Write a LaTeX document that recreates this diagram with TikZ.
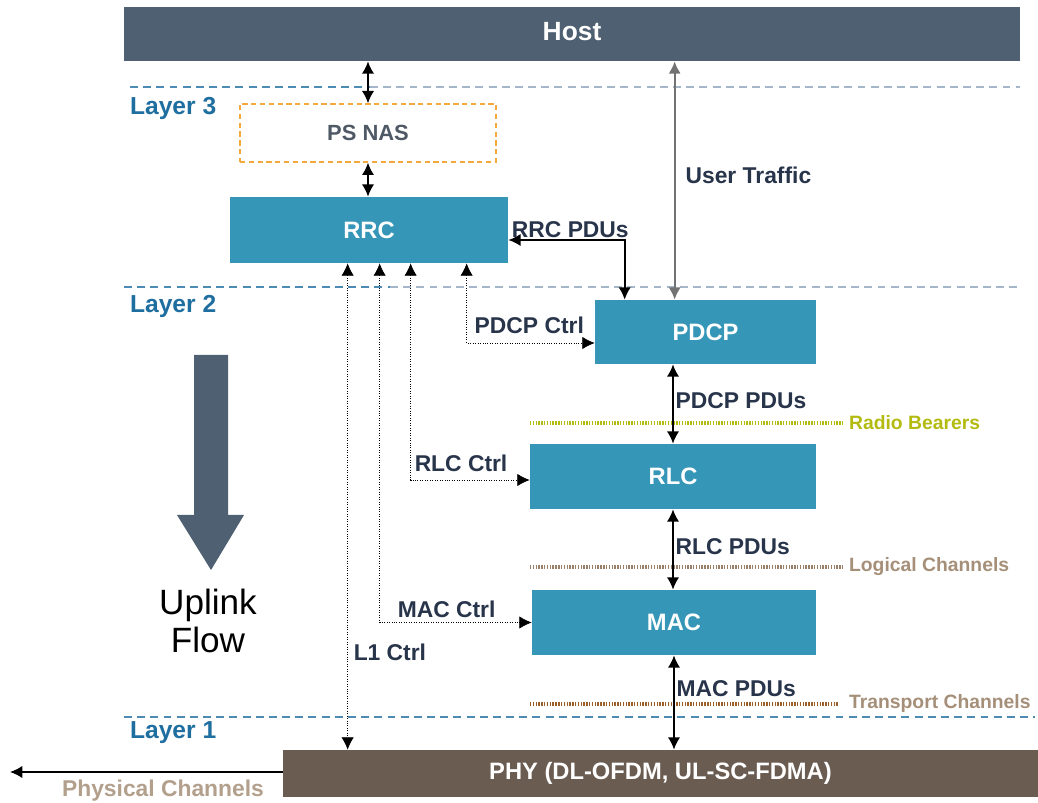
\documentclass[tikz,border=0pt]{standalone}
\usepackage{fontspec}
\setmainfont{Liberation Sans}
\usetikzlibrary{arrows.meta}

\definecolor{hostgray}{HTML}{4E6071}
\definecolor{layerteal}{HTML}{3596B7}
\definecolor{phybrown}{HTML}{6B5C52}
\definecolor{layerblue}{HTML}{1F6EA0}
\definecolor{linegray}{HTML}{A4B6C8}
\definecolor{labelink}{HTML}{27344A}
\definecolor{nasorange}{HTML}{F4A93C}
\definecolor{nastext}{HTML}{4F5966}
\definecolor{bearergreen}{HTML}{B3BA10}
\definecolor{logicbrown}{HTML}{9A8068}
\definecolor{transbrown}{HTML}{9C5F2A}
\definecolor{chantext}{HTML}{A58F78}

\tikzstyle{hostbar} = [rectangle, 
minimum width=17.92cm, 
minimum height=1.08cm, 
inner sep=0pt,
fill=hostgray, 
text=white, 
font=\fontsize{15}{18}\selectfont\bfseries]
\tikzstyle{block} = [rectangle, 
inner sep=0pt,
fill=layerteal, 
text=white, 
font=\fontsize{13.5}{16}\selectfont\bfseries]
\tikzstyle{nasbox} = [rectangle, 
minimum width=5.12cm, 
minimum height=1.16cm, 
draw=nasorange, 
thick, 
dash pattern=on 3pt off 2pt,
text=nastext, 
font=\fontsize{12.5}{14}\selectfont\bfseries]
\tikzstyle{phybar} = [rectangle, 
minimum width=15.1cm, 
minimum height=0.94cm, 
inner sep=0pt,
fill=phybrown, 
text=white, 
font=\fontsize{13.5}{16}\selectfont\bfseries]
\tikzstyle{tag} = [inner sep=1pt, text=labelink, font=\fontsize{13}{15}\selectfont\bfseries]
\tikzstyle{layertag} = [inner sep=1pt, anchor=west, text=layerblue, font=\fontsize{14}{16}\selectfont\bfseries]
\tikzstyle{chantag} = [inner sep=1pt, anchor=west, font=\fontsize{11}{13}\selectfont\bfseries]
\tikzstyle{layerline} = [thick, dash pattern=on 4.5pt off 3pt]
\tikzstyle{chanline} = [line width=2pt, dash pattern=on 0.8pt off 0.8pt]
\tikzstyle{arrow} = [line width=1pt,<->,>={Latex[length=7pt,width=7pt]}]
\tikzstyle{ctrl} = [densely dotted,<->,>={Latex[length=7pt,width=7pt]}]

\begin{document}
\begin{tikzpicture}[x=0.02cm, y=-0.02cm]

\useasboundingbox (0,0) rectangle (1038,803);

% layer boundaries
\draw [layerline, layerblue!80] (130,87) -- (370,87);
\draw [layerline, linegray] (370,87) -- (1020,87);
\draw [layerline, layerblue!80] (124,287) -- (390,287);
\draw [layerline, linegray] (390,287) -- (1020,287);
\draw [layerline, layerblue!80] (124,717) -- (1035,717);

\node (l3) [layertag] at (128,108) {Layer 3};
\node (l2) [layertag] at (128,306) {Layer 2};
\node (l1) [layertag] at (128,733) {Layer 1};

% channel boundaries
\draw [chanline, bearergreen] (530,423) -- (843,423);
\draw [chanline, logicbrown] (530,567) -- (843,567);
\draw [chanline, transbrown] (530,704) -- (838,704);

\node (rb) [chantag, text=bearergreen] at (847,423) {Radio Bearers};
\node (lc) [chantag, text=chantext] at (847,567) {Logical Channels};
\node (tc) [chantag, text=chantext] at (847,704) {Transport Channels};

% protocol stack
\node (host) [hostbar] at (572,34) {\raisebox{0.12cm}{Host}};
\node (psnas) [nasbox] at (368,133) {PS NAS};
\node (rrc) [block, minimum width=5.56cm, minimum height=1.32cm] at (369,230) {RRC};
\node (pdcp) [block, minimum width=4.42cm, minimum height=1.28cm] at (705.5,332) {PDCP};
\node (rlc) [block, minimum width=5.72cm, minimum height=1.3cm] at (673,476.5) {RLC};
\node (mac) [block, minimum width=5.68cm, minimum height=1.3cm] at (674,622.5) {MAC};
\node (phy) [phybar] at (660.5,773.5) {PHY (DL-OFDM, UL-SC-FDMA)};

% uplink hint
\fill [hostgray] (194,355) -- (228,355) -- (228,515) -- (244,515) -- (211,570) -- (177,515) -- (194,515) -- cycle;
\node (uplink) [align=center, text=black, font=\fontsize{20}{22}\selectfont] at (208,621) {Uplink\\Flow};

\coordinate (air) at (10,772);

\draw [arrow] (psnas.north) -- (psnas.north |- host.south);
\draw [arrow] (psnas.south) -- (psnas.south |- rrc.north);
\draw [arrow, line width=1.3pt, black!55] ([xshift=1.6cm]pdcp.north west) -- ([xshift=1.6cm]pdcp.north west |- host.south) 
  node[tag, anchor=west, pos=0.52, xshift=0.16cm] {User Traffic};
\draw [arrow] ([yshift=-0.2cm]rrc.east) -| node[tag, anchor=south west, pos=0, xshift=0.02cm] {RRC PDUs} ([xshift=0.6cm]pdcp.north west);
\draw [arrow] (pdcp.south -| rlc.north) -- node[tag, anchor=west, pos=0.46] {PDCP PDUs} (rlc.north);
\draw [arrow] (rlc.south) -- node[tag, anchor=west, pos=0.47] {RLC PDUs} (rlc.south |- mac.north);
\draw [arrow] (mac.south) -- node[tag, anchor=west, pos=0.35] {MAC PDUs} (mac.south |- phy.north);

\draw [ctrl] ([xshift=2.36cm]rrc.south west) -- node[tag, anchor=west, pos=0.8, xshift=0.08cm] {L1 Ctrl} ([xshift=2.36cm]rrc.south west |- phy.north);
\draw [ctrl] ([xshift=3cm]rrc.south west) |- node[tag, anchor=south west, pos=0.5, xshift=0.32cm, yshift=0.06cm] {MAC Ctrl} (mac.west);
\draw [ctrl] ([xshift=3.62cm]rrc.south west) |- node[tag, anchor=south west, pos=0.5, xshift=0.04cm, yshift=0.12cm] {RLC Ctrl} ([yshift=-0.07cm]rlc.west);
\draw [ctrl] ([xshift=4.74cm]rrc.south west) |- node[tag, anchor=south west, pos=0.5, xshift=0.12cm, yshift=0.14cm] {PDCP Ctrl} ([yshift=-0.22cm]pdcp.west);

\draw [thick,->,>={Latex[length=7pt,width=7pt]}] (phy.west |- air) -- (air);
\node (phych) [tag, text=chantext!85] at (163,791) {Physical Channels};

\end{tikzpicture}
\end{document}
